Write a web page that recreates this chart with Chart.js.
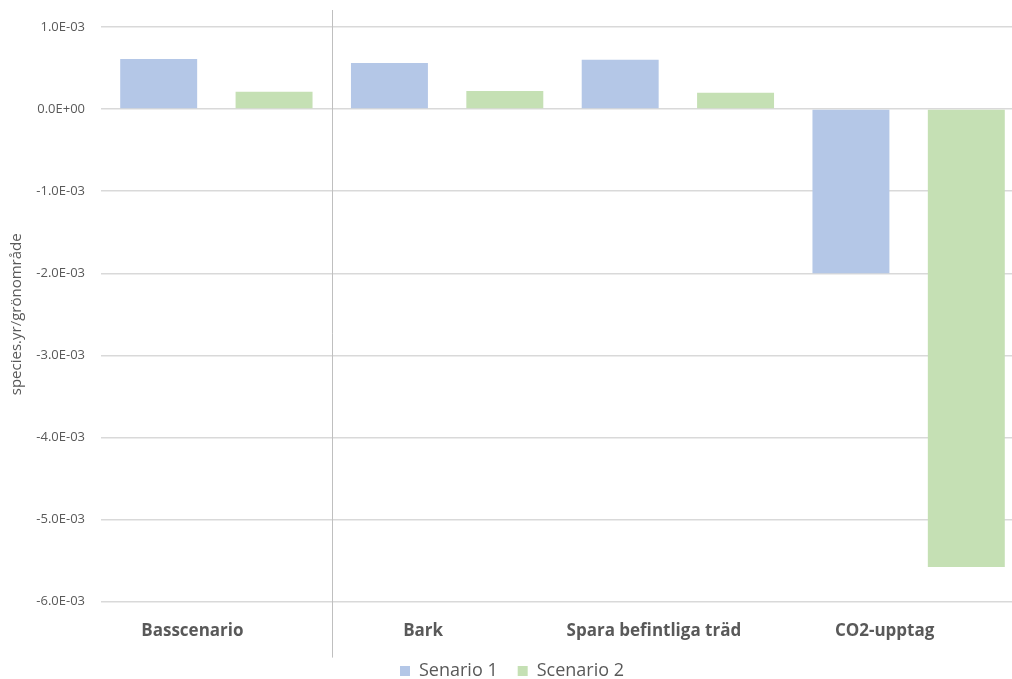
<!DOCTYPE html>
<html>
<head>
<meta charset="utf-8">
<script src="https://cdn.jsdelivr.net/npm/chart.js@4.4.1/dist/chart.umd.min.js"></script>
<style>
  html, body { margin: 0; padding: 0; background: #fff; overflow: hidden; }
  #wrap { width: 1030px; height: 690px; position: relative; }
</style>
</head>
<body>
<div id="wrap"><canvas id="barChart"></canvas></div>
<script>
// kategorier och värden per scenario
var kategorier = ["Basscenario", "Bark", "Spara befintliga träd", "CO2-upptag"];
var senario1 = [0.00061, 0.00056, 0.00060, -0.00200];
var senario2 = [0.00021, 0.00022, 0.00020, -0.00558];
var serieNamn = ["Senario 1", "Scenario 2"];

var gra = "#595959";
var typsnitt = "'Open Sans', Lato, sans-serif";

// formatera som 1.0E-03
function exponent(v) {
  var s = Number(v).toExponential(1);
  var delar = s.split("e");
  var tecken = delar[1].charAt(0);
  var tal = delar[1].slice(1);
  if (tal.length < 2) tal = "0" + tal;
  return delar[0] + "E" + tecken + tal;
}

// vertikal linje mellan första och andra kategorin
const axelLinje = {
  id: "axelLinje",
  afterDatasetsDraw(chart) {
    const x = chart.scales.x;
    const area = chart.chartArea;
    const pos = Math.round((x.getPixelForValue(0) + x.getPixelForValue(1)) / 2) + 0.5;
    const ctx = chart.ctx;
    ctx.save();
    ctx.strokeStyle = "#bfbfbf";
    ctx.lineWidth = 1;
    ctx.beginPath();
    ctx.moveTo(pos, area.top - 17);
    ctx.lineTo(pos, area.bottom + 56);
    ctx.stroke();
    ctx.restore();
  }
};

const CHART = document.getElementById("barChart");

let barChart = new Chart(CHART, {
  type: "bar",
  data: {
    labels: kategorier,
    datasets: [
      {
        label: serieNamn[0],
        backgroundColor: "#b4c7e7",
        borderWidth: 0,
        data: senario1
      },
      {
        label: serieNamn[1],
        backgroundColor: "#c5e0b4",
        borderWidth: 0,
        data: senario2
      }
    ]
  },
  options: {
    responsive: true,
    maintainAspectRatio: false,
    animation: false,
    categoryPercentage: 1.0,
    barPercentage: 0.667,
    layout: { padding: { top: 27, right: 6, left: 0, bottom: 0 } },
    plugins: {
      tooltip: { enabled: false },
      legend: {
        position: "bottom",
        labels: {
          boxWidth: 10,
          boxHeight: 10,
          padding: 20,
          color: gra,
          font: { family: typsnitt, size: 18 }
        }
      }
    },
    scales: {
      x: {
        grid: { display: false },
        border: { display: false },
        afterFit(scale) { scale.height -= 10; },
        ticks: {
          color: gra,
          padding: 11,
          labelOffset: -24,
          font: { family: typsnitt, size: 17, weight: "bold" }
        }
      },
      y: {
        min: -0.006,
        max: 0.001,
        afterFit(scale) { scale.width = 101; },
        border: { display: false },
        grid: { color: "#d9d9d9", lineWidth: 1.5, drawTicks: false },
        ticks: {
          stepSize: 0.001,
          padding: 16,
          color: gra,
          font: { family: typsnitt, size: 13 },
          callback: function(v) { return exponent(v); }
        },
        title: {
          display: true,
          text: "species.yr/grönområde",
          color: gra,
          padding: { top: 8, bottom: 4 },
          font: { family: typsnitt, size: 15 }
        }
      }
    }
  },
  plugins: [axelLinje]
});
</script>
</body>
</html>
